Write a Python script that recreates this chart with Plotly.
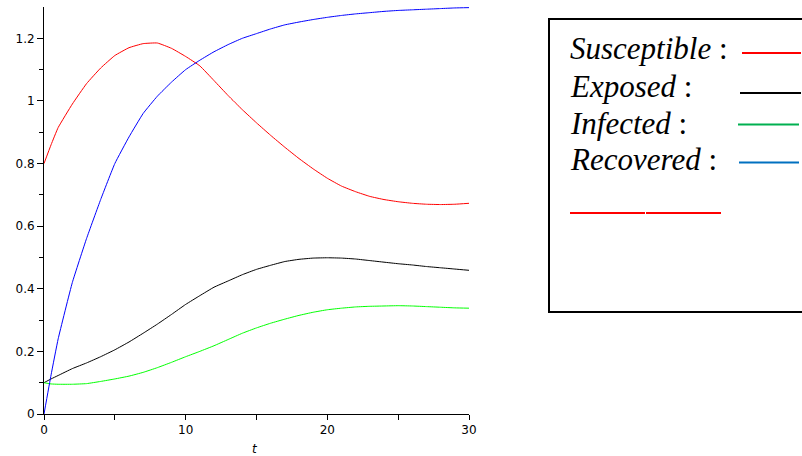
import plotly.graph_objects as go

t = [0, 0.5] + list(range(1, 31))

susceptible = [0.80, 0.86, 0.915, 0.99, 1.055, 1.105, 1.145, 1.17, 1.183, 1.185, 1.168, 1.142,
               1.112, 1.065, 1.017, 0.972, 0.93, 0.89, 0.852, 0.816, 0.783, 0.753, 0.728,
               0.71, 0.695, 0.685, 0.678, 0.673, 0.670, 0.669, 0.670, 0.673]
exposed = [0.10, 0.112, 0.123, 0.145, 0.163, 0.183, 0.205, 0.23, 0.258, 0.287, 0.318, 0.35,
           0.378, 0.405, 0.425, 0.445, 0.462, 0.475, 0.487, 0.494, 0.498, 0.499, 0.498,
           0.495, 0.49, 0.485, 0.48, 0.476, 0.471, 0.467, 0.463, 0.459]
infected = [0.10, 0.096, 0.095, 0.095, 0.097, 0.104, 0.112, 0.121, 0.133, 0.148, 0.165, 0.183,
            0.200, 0.218, 0.238, 0.258, 0.275, 0.29, 0.303, 0.315, 0.325, 0.333, 0.338,
            0.342, 0.344, 0.345, 0.346, 0.345, 0.343, 0.341, 0.339, 0.338]
recovered = [0.0, 0.125, 0.24, 0.42, 0.56, 0.685, 0.80, 0.885, 0.96, 1.015, 1.06, 1.10,
             1.13, 1.157, 1.18, 1.20, 1.215, 1.23, 1.243, 1.252, 1.26, 1.267, 1.273,
             1.278, 1.282, 1.286, 1.289, 1.291, 1.293, 1.295, 1.297, 1.298]

x_ticks = [0, 5, 10, 15, 20, 25, 30]
x_labels = ["0", "", "10", "", "20", "", "30"]
y_ticks = [0, 0.2, 0.4, 0.6, 0.8, 1.0, 1.2]
y_labels = ["0", "0.2", "0.4", "0.6", "0.8", "1", "1.2"]

legend_names = ["<i>Susceptible</i> :", "<i>Exposed</i> :", "<i>Infected</i> :", "<i>Recovered</i> :"]
legend_colors = ["#ff0000", "#000000", "#00b050", "#0070c0"]

fig = go.Figure()
for name, vals, col in [("Susceptible", susceptible, "#ff0000"),
                        ("Exposed", exposed, "#000000"),
                        ("Infected", infected, "#00ff00"),
                        ("Recovered", recovered, "#0000ff")]:
    fig.add_trace(go.Scatter(x=t, y=vals, mode="lines", name=name,
                             line=dict(color=col, width=1, shape="spline", smoothing=0.35)))

W, H = 802, 456
L, R, T, B = 44, 469, 7, 414


def px(x):
    return (x - L) / (R - L)


def py(y):
    return (B - y) / (B - T)


shapes = [dict(type="rect", xref="paper", yref="paper", x0=px(549), x1=px(803), y0=py(312), y1=py(19),
               line=dict(color="black", width=2))]
line_rows = [(742, 801, 53), (740, 801, 93), (738, 799, 124.5), (739, 799, 162.5)]
for (a, b, yy), col in zip(line_rows, legend_colors):
    shapes.append(dict(type="line", xref="paper", yref="paper", x0=px(a), x1=px(b), y0=py(yy), y1=py(yy),
                       line=dict(color=col, width=2)))
for a, b in [(570, 645), (646, 721)]:
    shapes.append(dict(type="line", xref="paper", yref="paper", x0=px(a), x1=px(b), y0=py(213), y1=py(213),
                       line=dict(color="#ff0000", width=2)))

annotations = []
for name, yy in zip(legend_names, [48, 86, 123, 160]):
    annotations.append(dict(text=name, xref="paper", yref="paper", x=px(568), y=py(yy),
                            xanchor="left", yanchor="middle", showarrow=False,
                            font=dict(family="Liberation Serif", size=31, color="black")))
annotations.append(dict(text="<i>t</i>", xref="paper", yref="paper", x=px(255), y=py(449),
                        xanchor="center", yanchor="middle", showarrow=False,
                        font=dict(family="DejaVu Sans", size=12, color="black")))

fig.update_layout(
    width=W, height=H,
    margin=dict(l=L, r=W - R, t=T, b=H - B),
    paper_bgcolor="white", plot_bgcolor="white",
    showlegend=False,
    shapes=shapes, annotations=annotations,
    font=dict(family="DejaVu Sans", size=12, color="black"),
    xaxis=dict(range=[0, 30], tickvals=x_ticks, ticktext=x_labels, ticks="outside", ticklen=5,
               tickcolor="black", showline=True, linecolor="black", linewidth=1, showgrid=False,
               zeroline=False, automargin=False),
    yaxis=dict(range=[0, 1.3], tickvals=y_ticks, ticktext=y_labels, ticks="outside", ticklen=6,
               tickcolor="black", showline=True, linecolor="black", linewidth=1, showgrid=False,
               zeroline=False, automargin=False,
               minor=dict(tickvals=[0.1, 0.3, 0.5, 0.7, 0.9, 1.1], ticks="outside", ticklen=4,
                          tickcolor="black", showgrid=False)),
)

fig.write_html("out.html")
